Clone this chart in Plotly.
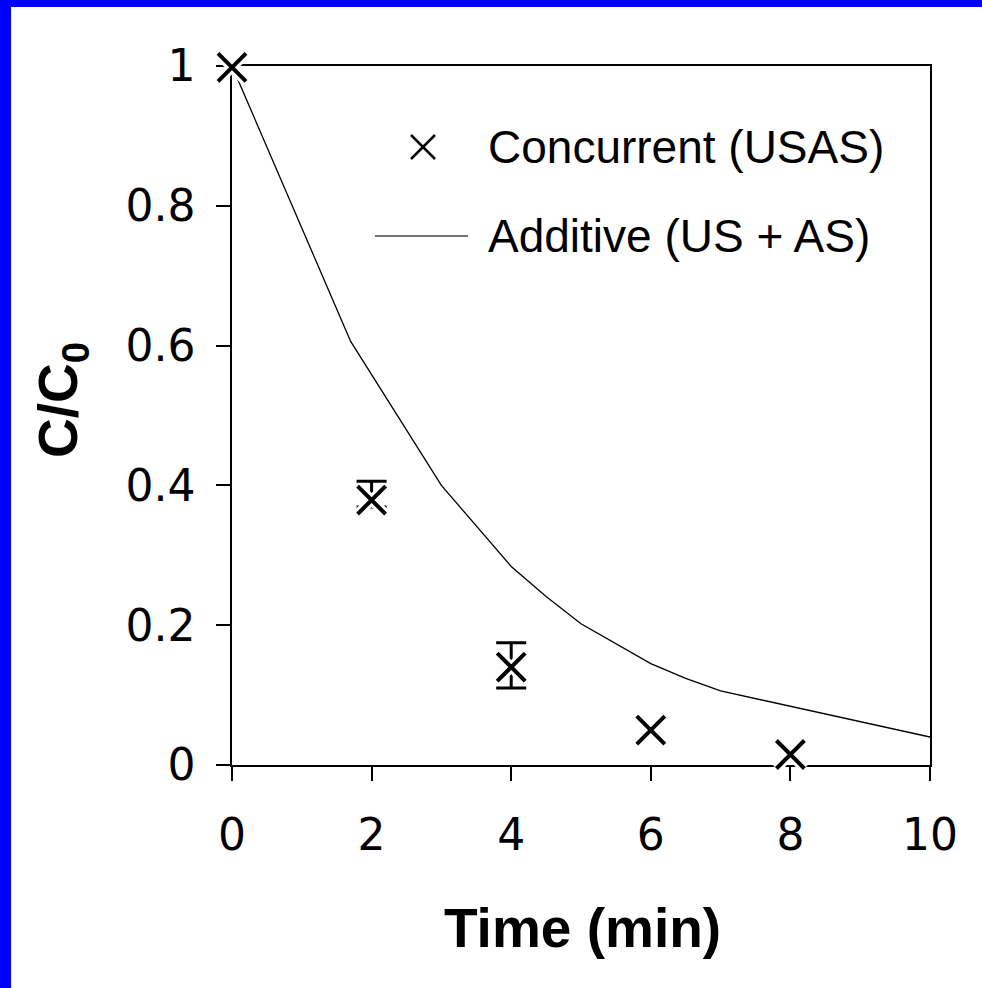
import plotly.graph_objects as go

# ---- data ----
conc_x = [0, 2, 4, 6, 8]
conc_y = [0.998, 0.379, 0.14, 0.05, 0.015]
err_x = [2, 4]
err_y = [0.379, 0.14]
err_plus = [0.027, 0.035]
err_minus = [0.01, 0.030]

add_x = [0, 1.7, 3, 3.5, 4, 4.5, 5, 6, 6.5, 7, 8, 10]
add_y = [1.0, 0.606, 0.40, 0.342, 0.284, 0.241, 0.202, 0.145, 0.124, 0.106, 0.084, 0.040]

x_ticks = [0, 2, 4, 6, 8, 10]
y_ticks = [0, 0.2, 0.4, 0.6, 0.8, 1]
y_ticktext = ["0", "0.2", "0.4", "0.6", "0.8", "1"]

legend_names = ["Concurrent (USAS)", "Additive (US + AS)"]

# ---- layout geometry (pixels) ----
W, H = 982, 988
L, R, T, B = 232, 930, 66, 765


def px(xp):
    return (xp - L) / (R - L)


def py(yp):
    return (B - yp) / (B - T)


fig = go.Figure()

fig.add_trace(go.Scatter(x=add_x, y=add_y, mode="lines",
                         line=dict(color="black", width=1.3),
                         showlegend=False, hoverinfo="skip"))

fig.add_trace(go.Scatter(x=err_x, y=err_y, mode="markers",
                         marker=dict(size=1, color="rgba(0,0,0,0)"),
                         error_y=dict(type="data", array=err_plus, arrayminus=err_minus,
                                      color="black", thickness=3, width=15),
                         showlegend=False, hoverinfo="skip", cliponaxis=False))

# white halo under the markers
fig.add_trace(go.Scatter(x=conc_x, y=conc_y, mode="markers",
                         marker=dict(symbol="x-thin", size=28, color="white",
                                     line=dict(color="white", width=10)),
                         showlegend=False, hoverinfo="skip", cliponaxis=False))

fig.add_trace(go.Scatter(x=conc_x, y=conc_y, mode="markers",
                         marker=dict(symbol="x-thin", size=28, color="black",
                                     line=dict(color="black", width=4)),
                         showlegend=False, cliponaxis=False))

shapes = [
    # blue frame strips (left and top only)
    dict(type="rect", xref="paper", yref="paper", x0=px(0), x1=px(11), y0=py(H), y1=py(0),
         fillcolor="#0000FF", line=dict(width=0), layer="below"),
    dict(type="rect", xref="paper", yref="paper", x0=px(0), x1=px(W), y0=py(7), y1=py(0),
         fillcolor="#0000FF", line=dict(width=0), layer="below"),
    # legend line sample
    dict(type="line", xref="paper", yref="paper", x0=px(375), x1=px(468), y0=py(236), y1=py(236),
         line=dict(color="#444", width=1.5)),
    # legend x marker
    dict(type="line", xref="paper", yref="paper", x0=px(411), x1=px(435), y0=py(135), y1=py(159),
         line=dict(color="black", width=2.5)),
    dict(type="line", xref="paper", yref="paper", x0=px(411), x1=px(435), y0=py(159), y1=py(135),
         line=dict(color="black", width=2.5)),
]

annotations = [
    dict(text=legend_names[0], xref="paper", yref="paper", x=px(486), y=py(147),
         xanchor="left", yanchor="middle", showarrow=False,
         font=dict(family="Liberation Sans, Arial", size=46, color="black")),
    dict(text=legend_names[1], xref="paper", yref="paper", x=px(486), y=py(236),
         xanchor="left", yanchor="middle", showarrow=False,
         font=dict(family="Liberation Sans, Arial", size=46, color="black")),
    dict(text="<b>Time (min)</b>", xref="paper", yref="paper", x=px(582), y=py(928),
         xanchor="center", yanchor="middle", showarrow=False,
         font=dict(family="Liberation Sans, Arial", size=55, color="black")),
    dict(text="<b>C/C<sub>0</sub></b>", xref="paper", yref="paper", x=px(62), y=py(400),
         xanchor="center", yanchor="middle", showarrow=False, textangle=-90,
         font=dict(family="Liberation Sans, Arial", size=55, color="black")),
]

fig.update_layout(
    width=W, height=H,
    margin=dict(l=L, r=W - R, t=T, b=H - B, pad=0),
    paper_bgcolor="white", plot_bgcolor="white",
    showlegend=False,
    shapes=shapes, annotations=annotations,
    xaxis=dict(range=[0, 10], tickvals=x_ticks, showgrid=False, zeroline=False,
               showline=True, linecolor="black", linewidth=1.5, mirror=True,
               ticks="outside", ticklen=14, tickwidth=1.5, tickcolor="black",
               ticklabelstandoff=16, layer="below traces",
               tickfont=dict(family="DejaVu Sans", size=44, color="black")),
    yaxis=dict(range=[0, 1], tickvals=y_ticks, ticktext=y_ticktext, showgrid=False,
               zeroline=False, showline=True, linecolor="black", linewidth=1.5, mirror=True,
               ticks="outside", ticklen=14, tickwidth=1.5, tickcolor="black",
               ticklabelstandoff=12, layer="below traces",
               tickfont=dict(family="DejaVu Sans", size=44, color="black")),
)

fig.write_html("out.html")
